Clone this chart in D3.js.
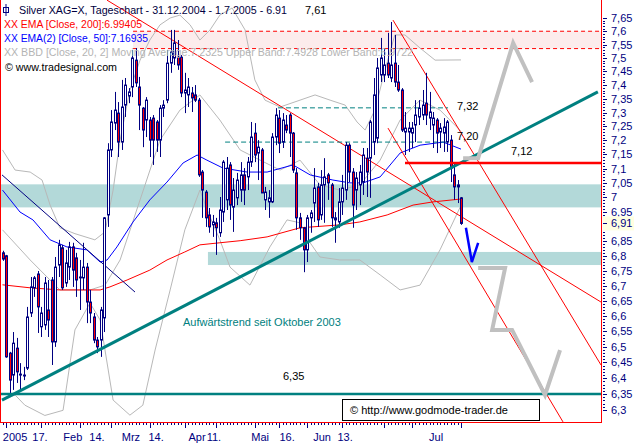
<!DOCTYPE html>
<html><head><meta charset="utf-8">
<script src="https://cdnjs.cloudflare.com/ajax/libs/d3/7.8.5/d3.min.js"></script>
<style>body{margin:0;background:#fff}svg{display:block}text{font-family:"Liberation Sans",Arial,sans-serif;font-size:11px}</style>
</head><body><svg id="c" width="634" height="443"></svg>
<script>
// ---------- DATA ----------
const opens=[6.810,6.800,6.480,6.410,6.496,6.410,6.410,6.432,6.610,6.693,6.739,6.565,6.571,6.620,6.719,6.516,6.769,6.827,6.709,6.762,6.830,6.793,6.726,6.726,6.762,6.646,6.597,6.522,6.522,6.594,6.939,7.166,7.262,7.298,7.194,7.327,7.360,7.393,7.492,7.393,7.316,7.273,7.273,7.280,7.266,7.201,7.316,7.345,7.481,7.500,7.503,7.503,7.371,7.364,7.371,7.364,7.345,7.088,7.018,6.939,6.905,6.912,6.878,6.949,6.991,7.113,6.966,6.998,7.025,7.078,7.071,7.123,7.226,7.155,7.166,6.991,6.984,6.984,7.212,7.280,7.194,7.255,7.291,7.226,7.085,6.929,6.895,6.820,6.929,6.980,7.036,6.939,7.043,7.078,7.043,6.922,6.915,6.984,7.025,7.183,7.088,7.025,7.043,7.053,7.137,7.137,7.194,7.208,7.437,7.437,7.481,7.426,7.481,7.411,7.382,7.230,7.230,7.226,7.255,7.284,7.291,7.334,7.280,7.255,7.273,7.230,7.226,7.194,7.201,7.078,7.036,6.998];
const highs=[6.817,6.803,6.484,6.548,6.529,6.448,6.436,6.630,6.729,6.732,6.749,6.630,6.729,6.719,6.729,6.796,6.854,6.837,6.820,6.847,6.844,6.810,6.786,6.844,6.776,6.686,6.610,6.532,6.630,6.932,7.190,7.309,7.375,7.338,7.419,7.426,7.389,7.530,7.537,7.430,7.320,7.356,7.284,7.291,7.273,7.327,7.345,7.530,7.605,7.605,7.567,7.511,7.445,7.426,7.393,7.400,7.353,7.095,7.025,6.963,6.939,6.929,7.001,7.130,7.141,7.123,7.067,7.085,7.123,7.102,7.141,7.266,7.262,7.201,7.173,7.036,7.025,7.226,7.316,7.309,7.298,7.291,7.298,7.230,7.102,6.946,6.898,6.939,6.956,7.102,7.050,7.095,7.137,7.085,7.050,6.949,7.032,7.078,7.194,7.190,7.102,7.088,7.113,7.173,7.173,7.273,7.426,7.500,7.575,7.537,7.594,7.635,7.586,7.474,7.389,7.302,7.266,7.266,7.345,7.345,7.382,7.445,7.375,7.302,7.280,7.262,7.280,7.273,7.219,7.123,7.060,7.001];
const lows=[6.783,6.465,6.341,6.363,6.385,6.363,6.394,6.426,6.597,6.663,6.545,6.532,6.555,6.532,6.442,6.500,6.729,6.686,6.696,6.719,6.696,6.663,6.620,6.686,6.577,6.577,6.512,6.480,6.468,6.548,6.898,7.141,7.237,7.141,7.166,7.284,7.334,7.356,7.393,7.237,7.176,7.212,7.141,7.113,7.159,7.141,7.284,7.334,7.445,7.474,7.456,7.356,7.298,7.320,7.302,7.338,7.071,6.929,6.898,6.878,6.864,6.803,6.864,6.915,6.956,6.922,6.881,6.973,6.984,6.973,7.025,7.106,7.123,7.060,7.015,6.956,6.929,6.980,7.183,7.155,7.173,7.226,7.141,7.085,6.888,6.854,6.745,6.779,6.878,6.915,6.898,6.922,6.912,6.991,6.898,6.844,6.895,6.939,6.991,7.053,6.895,6.956,6.973,7.008,7.001,6.998,7.148,7.190,7.411,7.411,7.426,7.411,7.393,7.375,7.230,7.148,7.159,7.173,7.194,7.255,7.273,7.255,7.237,7.173,7.155,7.173,7.159,7.159,7.053,6.991,6.980,6.905];
const closes=[6.789,6.468,6.394,6.512,6.420,6.413,6.407,6.597,6.696,6.726,6.630,6.610,6.709,6.587,6.516,6.762,6.837,6.693,6.776,6.830,6.752,6.719,6.729,6.762,6.646,6.610,6.522,6.500,6.620,6.929,7.166,7.266,7.309,7.194,7.320,7.400,7.375,7.500,7.408,7.327,7.237,7.345,7.201,7.201,7.201,7.316,7.327,7.481,7.522,7.556,7.474,7.371,7.382,7.393,7.353,7.345,7.078,7.025,6.929,6.898,6.915,6.895,6.956,7.123,7.102,6.973,7.025,7.060,7.078,7.025,7.123,7.212,7.148,7.176,7.015,7.018,6.998,7.212,7.291,7.190,7.273,7.237,7.226,7.095,6.929,6.895,6.820,6.929,6.946,7.032,6.922,7.043,7.071,7.050,6.929,6.929,6.984,7.032,7.183,7.088,6.973,7.067,7.088,7.148,7.088,7.266,7.364,7.463,7.500,7.474,7.437,7.474,7.411,7.382,7.237,7.244,7.244,7.244,7.291,7.316,7.327,7.291,7.302,7.280,7.226,7.244,7.248,7.266,7.102,7.036,7.043,6.910];

// EMA 200 (red) and EMA 50 (blue): [bar index, price]
const ema200=[[0,6.703],[7.9,6.693],[16.4,6.686],[27.9,6.686],[30.7,6.696],[35.6,6.719],[42.1,6.752],[47,6.786],[52.1,6.813],[56.4,6.837],[62.1,6.844],[67.9,6.851],[75.6,6.864],[85,6.895],[96.4,6.905],[102.1,6.915],[109.9,6.939],[117.3,6.973],[123,6.984],[131,6.994]];
const ema50=[[0,7.025],[5,6.949],[8.7,6.922],[13.6,6.854],[18.4,6.830],[24.1,6.820],[27.9,6.779],[29.9,6.786],[32.7,6.830],[37.3,6.915],[42.1,6.991],[47,7.053],[51.6,7.120],[55.6,7.148],[58.4,7.130],[63,7.102],[69.9,7.088],[75.6,7.088],[83,7.113],[87.9,7.078],[94.4,7.060],[99.3,7.050],[103,7.050],[107.9,7.071],[113.6,7.155],[119.3,7.183],[125.9,7.194],[131,7.169]];
// Bollinger (gray)
const bbUpper=[[0,7.166],[3.6,7.095],[7.9,7.088],[11.3,7.060],[13.6,6.973],[16.4,6.895],[20.7,6.875],[26.4,6.854],[29.3,6.881],[31.6,7.025],[33.6,7.201],[36.4,7.382],[39.3,7.492],[42.1,7.567],[45,7.624],[47.9,7.650],[50.7,7.661],[53.6,7.624],[56.4,7.567],[59.3,7.605],[62.1,7.661],[65.6,7.688],[69.3,7.605],[72.1,7.419],[75,7.345],[79.3,7.320],[85,7.345],[89.3,7.364],[93.6,7.345],[97.9,7.327],[101.3,7.266],[103.6,7.237],[106.4,7.309],[109.3,7.456],[112.1,7.586],[115,7.586],[119.3,7.537],[123.6,7.492],[131,7.4928]];
const bbMiddle=[[0,6.888],[7.9,6.786],[16.4,6.686],[25,6.686],[29.3,6.702],[33.6,6.786],[39.3,6.991],[45,7.201],[50.7,7.309],[56.4,7.364],[62.1,7.273],[67.9,7.166],[73.6,7.130],[79.3,7.095],[85,7.130],[90.7,7.043],[96.4,7.025],[102.1,7.043],[107.9,7.130],[113.6,7.273],[119.3,7.345],[125,7.309],[131,7.2325]];
const bbLower=[[0,6.331],[3.6,6.347],[6.4,6.315],[12.1,6.283],[17.3,6.299],[20.7,6.555],[25,6.643],[27.9,6.587],[31.6,6.331],[36.4,6.284],[40.1,6.315],[43.6,6.490],[47.9,6.686],[52.1,6.888],[56.4,7.025],[59.3,6.932],[62.1,6.854],[65,6.762],[70.7,6.702],[76.4,6.830],[81.3,6.922],[85,6.912],[87.9,6.844],[90.7,6.796],[96.4,6.786],[102.1,6.786],[107.9,6.736],[113.6,6.686],[119.3,6.702],[125,6.820],[131,6.9722]];
// drawn trend lines [index, price]
const upTrend=[[-0.14,6.331],[170.1,7.375]];
const navyTrend=[[-0.14,7.078],[37.86,6.679]];
const redTrend1=[[29.86,7.718],[171.0,6.646]];
const redTrend2=[[111.57,7.642],[171.0,6.442]];
const redTrend3=[[110.14,7.244],[160.14,6.263]];
const projUp=[[131.6,7.137],[135.9,7.137],[145.9,7.556],[151.3,7.411]];
const projDown=[[135.9,6.759],[143.6,6.759],[139.9,6.555],[145.6,6.555],[155,6.347],[159.3,6.490]];
const blueV=[[132.4,6.895],[134.1,6.779],[135.9,6.844]];
// horizontal levels
const resistBand=[7.535,7.60], resistStart=37.3;
const zoneUpper=[6.965,7.045];
const zoneLower=[6.769,6.813], zoneLowerStart=58.7;
const level732=7.317, level720=7.194, levelDashStart=[78.7,63.6], levelDashEnd=127.3;
const level712=7.12, level712Start=115;
const level635=6.35;
const yTicks=d3.range(630,766,5).map(v=>v/100);
const xLabels=["2005","17.","Feb","14.","Mrz","14.","Apr","11.","Mai","16.","Jun","13.","Jul"];
const xLabelIdx=[3.6,10.7,20.1,27,36.7,43.9,55.6,60.4,73.6,81.3,91.3,97.9,123.9];
const xMajorIdx=[1,11,22,31,42,52,61,72,79,87,97,109,117,131];
const lastPrice=6.91;

// ---------- SCALES ----------
const svg=d3.select("#c");
const x=d3.scaleLinear().domain([0,131]).range([2.5,461]);
const y=d3.scaleLog().domain([6.3,7.65]).range([410,18]);
const R=601,B=422;
const navy="#000080", teal="#008080", red="#ff0000";

svg.append("rect").attr("width",634).attr("height",443).attr("fill","#fff");
svg.append("defs").append("clipPath").attr("id","cp").append("rect").attr("x",0).attr("y",0).attr("width",R).attr("height",B);
const g=svg.append("g").attr("clip-path","url(#cp)");
const line=d3.line().x(d=>x(d[0])).y(d=>y(d[1]));

// pink resistance band
g.append("rect").attr("x",x(resistStart)).attr("y",y(resistBand[1])).attr("width",R-x(resistStart)).attr("height",y(resistBand[0])-y(resistBand[1])).attr("fill","#fcecec");
resistBand.forEach(v=>g.append("line").attr("x1",x(resistStart)).attr("x2",R).attr("y1",y(v)).attr("y2",y(v)).attr("stroke",red).attr("stroke-dasharray","4,3"));
// teal zones
g.append("rect").attr("x",0).attr("y",y(zoneUpper[1])).attr("width",R).attr("height",y(zoneUpper[0])-y(zoneUpper[1])).attr("fill","#b3d9d9");
g.append("rect").attr("x",x(zoneLowerStart)).attr("y",y(zoneLower[1])).attr("width",R-x(zoneLowerStart)).attr("height",y(zoneLower[0])-y(zoneLower[1])).attr("fill","#b3d9d9");

// bollinger
[bbUpper,bbMiddle,bbLower].forEach(d=>g.append("path").attr("d",line(d)).attr("fill","none").attr("stroke","#b8b8b8").attr("stroke-width",1));
// EMAs
g.append("path").attr("d",line(ema200)).attr("fill","none").attr("stroke",red).attr("stroke-width",1);
g.append("path").attr("d",line(ema50)).attr("fill","none").attr("stroke","#0000ff").attr("stroke-width",1);
g.append("path").attr("d",line(navyTrend)).attr("fill","none").attr("stroke",navy).attr("stroke-width",1);
// red trend lines
[redTrend1,redTrend2,redTrend3].forEach(d=>g.append("path").attr("d",line(d)).attr("fill","none").attr("stroke",red).attr("stroke-width",1));
// teal dashed levels
[[level732,levelDashStart[0]],[level720,levelDashStart[1]]].forEach(([v,s])=>g.append("line").attr("x1",x(s)).attr("x2",x(levelDashEnd)).attr("y1",y(v)).attr("y2",y(v)).attr("stroke",teal).attr("stroke-dasharray","5,3"));

// candles
const idx=d3.range(closes.length);
const cg=g.append("g");
idx.forEach(i=>{
  const o=opens[i],c=closes[i],h=Math.max(highs[i],o,c),l=Math.min(lows[i],o,c);
  const cx=Math.round(x(i))+0.5;
  cg.append("line").attr("x1",cx).attr("x2",cx).attr("y1",y(h)).attr("y2",y(l)).attr("stroke",navy).attr("stroke-width",1);
  const top=y(Math.max(o,c)),bot=y(Math.min(o,c));
  cg.append("rect").attr("x",cx-1).attr("y",top).attr("width",2).attr("height",Math.max(bot-top,0.8))
    .attr("fill",c<o?red:"#fff").attr("stroke",navy).attr("stroke-width",1);
});

// uptrend & 6.35 line
g.append("path").attr("d",line(upTrend)).attr("fill","none").attr("stroke",teal).attr("stroke-width",3);
g.append("line").attr("x1",0).attr("x2",R).attr("y1",y(level635)).attr("y2",y(level635)).attr("stroke",teal).attr("stroke-width",2.5);
// 7.12 line
g.append("line").attr("x1",x(level712Start)).attr("x2",R).attr("y1",y(level712)).attr("y2",y(level712)).attr("stroke",red).attr("stroke-width",2.5);
// projections
g.append("path").attr("d",line(projUp)).attr("fill","none").attr("stroke","#c0c0c0").attr("stroke-width",4);
g.append("path").attr("d",line(projDown)).attr("fill","none").attr("stroke","#c0c0c0").attr("stroke-width",4);
g.append("path").attr("d",line(blueV)).attr("fill","none").attr("stroke","#0000ff").attr("stroke-width",2.5);

// annotations
const t=(tx,ty,s,f)=>svg.append("text").attr("x",tx).attr("y",ty).attr("fill",f||"#000").text(s);
t(305,14,"7,61");
t(457,110,"7,32");
t(457,140,"7,20");
t(511,155,"7,12");
t(283,380,"6,35");
t(183,326,"Aufwärtstrend seit Oktober 2003",teal);

// legend
svg.append("rect").attr("x",3.5).attr("y",7.5).attr("width",5).attr("height",5).attr("fill","none").attr("stroke",navy);
svg.append("line").attr("x1",6).attr("x2",6).attr("y1",4).attr("y2",16).attr("stroke",navy);
const lg=(ty,tx,s,f,w)=>svg.append("text").attr("x",tx).attr("y",ty).attr("fill",f).attr("textLength",w).attr("lengthAdjust","spacingAndGlyphs").text(s);
lg(14,19,"Silver XAG=X, Tageschart - 31.12.2004 - 1.7.2005 - 6.91","#000040",268);
lg(28,4,"XX EMA [Close, 200]:6.99405",red,138);
lg(42,4,"XX EMA(2) [Close, 50]:7.16935","#0000ff",144);
lg(56,4,"XX BBD [Close, 20, 2] Moving Average:7.2325 Upper Band:7.4928 Lower Band:6.9722","#b4b4b4",409);
lg(71,5,"© www.tradesignal.com","#000",112);

// copyright box
svg.append("rect").attr("x",342.5).attr("y",399.5).attr("width",197).attr("height",21).attr("fill","#fff").attr("stroke","#000");
svg.append("text").attr("x",350).attr("y",414).attr("fill","#000").text("© http://www.godmode-trader.de");

// border
svg.append("line").attr("x1",0.5).attr("x2",0.5).attr("y1",0).attr("y2",B).attr("stroke",red);
svg.append("line").attr("x1",R+0.5).attr("x2",R+0.5).attr("y1",0).attr("y2",B+1).attr("stroke",red);
svg.append("line").attr("x1",0).attr("x2",R+1).attr("y1",B+0.5).attr("y2",B+0.5).attr("stroke",red);

// right axis
const ya=svg.append("g");
d3.range(630,766).map(v=>v/100).forEach(v=>ya.append("line").attr("x1",603).attr("x2",605).attr("y1",Math.round(y(v))+0.5).attr("y2",Math.round(y(v))+0.5).attr("stroke",navy));
yTicks.forEach(v=>{
  ya.append("line").attr("x1",603).attr("x2",607).attr("y1",Math.round(y(v))+0.5).attr("y2",Math.round(y(v))+0.5).attr("stroke",navy);
  if(Math.abs(v-lastPrice)<0.025) return; // hidden behind the last-price marker
  ya.append("text").attr("x",611).attr("y",y(v)).attr("dy","0.36em").attr("fill",navy).text(d3.format(".2~f")(v).replace(".",","));
});
// last price marker
ya.append("rect").attr("x",603).attr("y",y(lastPrice)-7).attr("width",31).attr("height",14).attr("fill","#ffffe1");
ya.append("line").attr("x1",603).attr("x2",607).attr("y1",Math.round(y(lastPrice))+0.5).attr("y2",Math.round(y(lastPrice))+0.5).attr("stroke",navy);
ya.append("text").attr("x",611).attr("y",y(lastPrice)).attr("dy","0.36em").attr("fill",navy).text("6,91");

// bottom axis
const xa=svg.append("g");
idx.forEach(i=>xa.append("line").attr("x1",Math.round(x(i))+0.5).attr("x2",Math.round(x(i))+0.5).attr("y1",423).attr("y2",425).attr("stroke",navy));
xMajorIdx.forEach(i=>xa.append("line").attr("x1",Math.round(x(i))+0.5).attr("x2",Math.round(x(i))+0.5).attr("y1",423).attr("y2",428).attr("stroke",navy));
xLabels.forEach((s,k)=>xa.append("text").attr("x",x(xLabelIdx[k])).attr("y",441).attr("text-anchor","middle").attr("fill",navy).text(s));
</script></body></html>
